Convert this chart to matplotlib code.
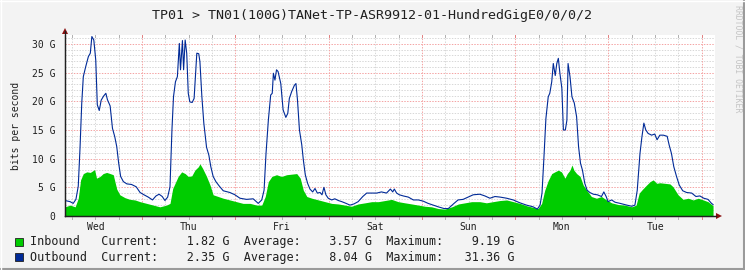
import matplotlib
matplotlib.use("Agg")
import matplotlib.pyplot as plt
from matplotlib.lines import Line2D
from matplotlib.patches import Rectangle, Polygon

# ---- data (hours since Wed 00:00, Gbit/s) ----
out_t = [4.2, 5.5, 6.3, 7.0, 7.6, 8.05, 8.5, 8.9, 9.5, 10.2, 10.7, 11.1, 11.6, 12.1, 12.5, 13.0,
         13.5, 14.1, 14.7, 15.1, 15.8, 16.4, 17.0, 17.5, 18.0, 18.5, 19.2, 20.1, 21.3, 22.5, 23.5,
         24.5, 25.6, 26.7, 27.6, 28.4, 29.2, 29.9, 30.6, 31.2, 31.7, 32.1, 32.6, 33.1, 33.6, 33.9,
         34.4, 34.7, 35.1, 35.5, 35.9, 36.3, 36.9, 37.4, 37.8, 38.1, 38.6, 38.9, 39.4, 39.9, 40.6,
         41.2, 41.7, 42.3, 43.0, 43.9, 44.9, 46.6, 47.9, 49.2, 50.9, 52.6, 53.9, 54.8, 55.4, 55.9,
         56.5, 57.1, 57.5, 57.8, 58.2, 58.6, 59.0, 59.7, 60.3, 61.0, 61.5, 61.9, 62.5, 63.2, 63.6,
         64.0, 64.5, 65.1, 65.5, 66.0, 66.6, 67.2, 67.9, 68.5, 69.1, 69.8, 70.3, 70.8, 71.3, 71.9,
         72.8, 73.6, 74.5, 75.4, 76.5, 77.5, 78.5, 79.6, 80.8, 81.8, 83.1, 84.4, 85.6, 86.9, 87.9,
         88.5, 88.9, 89.5, 90.2, 91.2, 92.5, 93.8, 95.1, 96.3, 97.6, 98.9, 100.2, 101.7, 102.8,
         104.1, 105.3, 106.6, 107.9, 109.2, 110.9, 112.2, 113.5, 114.8, 116.1, 117.8, 119.5, 121.2,
         122.9, 124.6, 125.7, 126.4, 126.9, 127.4, 127.9, 128.5, 128.9, 129.4, 129.8, 130.3, 130.7,
         131.1, 131.5, 132.0, 132.4, 132.9, 133.3, 133.6, 134.1, 134.6, 135.2, 135.8, 136.3, 136.8,
         137.3, 137.9, 138.5, 139.2, 140.1, 141.1, 142.2, 142.8, 143.4, 143.9, 144.8, 145.7, 147.0,
         148.7, 150.0, 150.8, 151.4, 152.1, 152.6, 153.1, 153.6, 154.2, 155.1, 155.9, 156.5, 157.2,
         158.1, 159.1, 159.6, 160.2, 160.8, 161.5, 162.2, 163.1, 164.1, 165.4, 166.5, 167.5, 168.5,
         169.6, 170.5, 170.9]
out_v = [2.7, 2.5, 2.2, 2.9, 5.2, 11.8, 19.7, 24.3, 26.0, 27.8, 28.4, 31.3, 30.7, 27.2, 19.4, 18.4,
         20.2, 20.9, 21.4, 20.3, 19.2, 15.3, 13.8, 12.1, 9.2, 6.9, 6.0, 5.6, 5.5, 5.1, 4.1,
         3.7, 3.3, 2.8, 3.5, 3.8, 3.4, 2.7, 3.3, 5.1, 15.0, 20.8, 23.4, 24.3, 30.1, 25.5,
         30.6, 25.5, 30.7, 28.4, 21.4, 19.9, 19.8, 20.5, 24.9, 28.4, 28.3, 26.9, 20.8, 16.2, 12.0,
         10.6, 8.6, 6.9, 6.0, 5.2, 4.4, 4.1, 3.7, 3.1, 2.9, 3.0, 2.2, 2.8, 4.5, 10.9,
         16.7, 21.1, 21.4, 24.9, 23.7, 25.5, 25.2, 23.1, 18.5, 17.2, 17.9, 20.5, 21.7, 22.8, 23.1,
         20.2, 15.0, 12.4, 9.8, 7.2, 5.7, 4.7, 4.2, 4.8, 4.0, 4.1, 3.7, 5.0, 3.7, 3.1,
         2.8, 3.0, 2.7, 2.5, 2.2, 1.9, 2.1, 2.5, 3.4, 4.0, 4.0, 4.0, 4.2, 4.0, 4.7,
         4.2, 4.7, 4.0, 3.7, 3.5, 3.3, 2.8, 2.8, 2.6, 2.2, 1.9, 1.6, 1.3, 1.3,
         2.1, 2.8, 2.9, 3.3, 3.7, 3.8, 3.5, 3.1, 3.4, 3.3, 3.1, 2.8, 2.3,
         1.9, 1.6, 1.2, 1.9, 4.0, 10.3, 17.0, 20.8, 21.4, 23.4, 26.6, 24.5, 26.6,
         27.5, 24.9, 22.3, 15.0, 15.0, 16.7, 26.6, 24.3, 20.8, 19.7, 17.3, 12.1, 9.2,
         8.0, 5.7, 4.5, 4.1, 3.8, 3.7, 3.4, 4.2, 3.4, 2.5, 2.8, 2.4, 2.2,
         1.9, 1.7, 1.9, 4.5, 10.9, 13.8, 16.2, 15.0, 14.4, 14.1, 14.3, 13.3, 14.1,
         14.1, 13.9, 12.4, 10.9, 8.6, 6.9, 5.4, 4.4, 4.1, 4.0, 3.4, 3.5, 3.1,
         2.9, 2.2, 2.0]

in_t = [4.2, 5.5, 6.8, 7.6, 8.2, 8.9, 9.8, 10.7, 11.8, 12.3, 13.2, 14.0, 14.9, 15.8, 16.6, 17.5,
        18.3, 19.6, 20.9, 22.2, 23.5, 25.2, 26.9, 28.6, 30.3, 31.2, 31.9, 32.5, 33.3, 34.2, 35.1,
        35.9, 36.8, 37.6, 38.5, 38.9, 39.6, 40.6, 41.5, 42.3, 43.6, 44.9, 46.6, 48.3, 50.0, 51.8,
        53.5, 54.8, 55.7, 56.5, 57.4, 58.6, 59.9, 61.2, 62.5, 63.8, 64.7, 65.5, 66.4, 67.7, 69.4,
        71.1, 72.8, 74.5, 76.2, 77.9, 79.6, 81.4, 83.1, 84.8, 86.5, 88.2, 89.9, 91.6, 93.4, 95.1,
        96.8, 98.5, 100.2, 101.9, 103.7, 105.4, 107.1, 108.8, 110.9, 112.6, 114.3, 116.1, 117.8,
        119.5, 121.2, 122.9, 124.6, 125.9, 126.8, 127.6, 128.5, 129.4, 130.2, 131.1, 131.9, 132.8,
        133.4, 134.1, 134.6, 135.1, 135.8, 136.7, 137.5, 138.4, 139.6, 140.9, 142.2, 143.5, 144.8,
        146.5, 148.2, 150.0, 151.1, 151.9, 152.8, 153.8, 154.7, 155.5, 156.4, 157.2, 158.5, 159.8,
        160.6, 161.9, 163.2, 164.5, 165.8, 167.1, 168.4, 169.6, 170.9]
in_v = [1.6, 1.9, 1.6, 3.1, 6.3, 7.4, 7.7, 7.6, 8.1, 6.6, 6.9, 7.4, 7.6, 7.4, 7.2, 4.7,
        3.7, 3.2, 2.9, 2.8, 2.5, 2.2, 1.9, 1.6, 1.9, 2.2, 4.8, 5.7, 6.9, 7.7, 7.4,
        6.9, 7.0, 8.0, 8.6, 9.1, 8.3, 6.9, 5.4, 3.7, 3.4, 3.1, 2.8, 2.5, 2.2, 2.2,
        1.9, 1.9, 3.4, 6.0, 6.9, 7.2, 6.9, 7.2, 7.3, 7.4, 6.6, 4.5, 3.4, 3.1, 2.8,
        2.5, 2.2, 2.1, 1.9, 1.7, 2.1, 2.3, 2.5, 2.5, 2.7, 2.9, 2.5, 2.3, 2.1, 1.9,
        1.7, 1.6, 1.3, 1.2, 1.6, 2.1, 2.3, 2.5, 2.5, 2.3, 2.5, 2.7, 2.8,
        2.5, 2.2, 1.8, 1.5, 1.3, 2.2, 4.5, 6.2, 7.4, 7.7, 8.0, 7.7, 6.6,
        7.4, 8.0, 8.9, 8.0, 7.4, 6.9, 5.4, 4.5, 3.4, 3.1, 3.4, 2.8, 2.3,
        2.0, 1.9, 1.6, 1.9, 4.0, 4.7, 5.4, 6.0, 6.3, 5.7, 5.8, 5.7, 5.6,
        5.1, 3.7, 2.9, 3.1, 2.8, 3.1, 2.8, 2.5, 1.8]

day_labels = ["Wed", "Thu", "Fri", "Sat", "Sun", "Mon", "Tue"]
y_ticks = [0, 5, 10, 15, 20, 25, 30]
y_ticklabels = ["0", "5 G", "10 G", "15 G", "20 G", "25 G", "30 G"]
title = "TP01 > TN01(100G)TANet-TP-ASR9912-01-HundredGigE0/0/0/2"
legend_rows = [
    ("Inbound", "1.82 G", "3.57 G", "9.19 G", "#00CC00"),
    ("Outbound", "2.35 G", "8.04 G", "31.36 G", "#002A97"),
]

MONO = "DejaVu Sans Mono"
W, H = 745, 270
fig = plt.figure(figsize=(W / 100, H / 100), dpi=100)
fig.patch.set_facecolor("#F3F3F3")

x0, x1, ytop, ybot = 65, 715, 35, 216
ax = fig.add_axes([x0 / W, (H - ybot) / H, (x1 - x0) / W, (ybot - ytop) / H])
ax.set_facecolor("white")
xmin, xmax = 4.19, 171.4
ymax = 31.57
ax.set_xlim(xmin, xmax)
ax.set_ylim(0, ymax)

dot = (0, (1.4, 1.4))
# horizontal grid
for g in range(1, 32):
    if g % 5 == 0:
        ax.axhline(g, color="#F4A4A4", lw=0.72, ls=dot, zorder=1)
    else:
        ax.axhline(g, color="#D8D8D8", lw=0.72, ls=dot, zorder=1)
# vertical grid
for h in range(6, 172, 6):
    if h % 24 == 0:
        ax.axvline(h, color="#F4A4A4", lw=0.72, ls=dot, zorder=1)
    else:
        ax.axvline(h, color="#D8D8D8", lw=0.72, ls=dot, zorder=1)

ax.fill_between(in_t, 0, in_v, color="#00CC00", lw=0, zorder=2)
ax.plot(out_t, out_v, color="#002A97", lw=0.8, zorder=3)

for s in ["top", "right"]:
    ax.spines[s].set_visible(False)
for s in ["left", "bottom"]:
    ax.spines[s].set_color("#202020")
    ax.spines[s].set_linewidth(0.9)

ax.set_yticks(y_ticks)
ax.set_yticklabels(y_ticklabels, fontfamily=MONO, fontsize=7, color="#202020")
ax.set_xticks([12 + 24 * i for i in range(7)])
ax.set_xticklabels(day_labels, fontfamily=MONO, fontsize=7, color="#202020")
ax.tick_params(axis="both", length=0)
ax.tick_params(axis="y", pad=7)
ax.tick_params(axis="x", pad=4)
ax.set_ylabel("bits per second", fontfamily=MONO, fontsize=7, color="#202020", labelpad=8)

def px(x, y):
    return (x / W, 1 - y / H)

# small ticks at grid line ends
for h in range(6, 172, 6):
    xp = x0 + (h - xmin) / (xmax - xmin) * (x1 - x0)
    col = "#E08080" if h % 24 == 0 else "#B0B0B0"
    fig.add_artist(Line2D([xp / W, xp / W], [1 - 216 / H, 1 - 219 / H], color=col, lw=0.7))
    fig.add_artist(Line2D([xp / W, xp / W], [1 - ytop / H, 1 - (ytop + 2) / H], color=col, lw=0.7))

# extended axes and arrows
fig.add_artist(Line2D([x0 / W, x0 / W], [1 - ybot / H, 1 - 31 / H], color="#202020", lw=0.9))
fig.add_artist(Line2D([x0 / W, 716 / W], [1 - ybot / H, 1 - ybot / H], color="#202020", lw=0.9))
fig.add_artist(Polygon([px(62, 34), px(68, 34), px(65, 28)], closed=True, color="#8B1010", lw=0))
fig.add_artist(Polygon([px(716, 213), px(716, 219), px(722, 216)], closed=True, color="#8B1010", lw=0))

# title
fig.text(372 / W, 1 - 15 / H, title, fontfamily=MONO, fontsize=9.6, color="#202020",
         ha="center", va="center")
# watermark
fig.text(738 / W, 1 - 5 / H, "RRDTOOL / TOBI OETIKER", fontfamily=MONO, fontsize=5.9,
         color="#C4C4C4", rotation=270, ha="center", va="top")

# legend
for i, (name, cur, avg, mx, col) in enumerate(legend_rows):
    yc = 242 + i * 15
    fig.add_artist(Rectangle(px(15, yc + 4), 8 / W, 8 / H, facecolor=col,
                             edgecolor="#202020", lw=0.6))
    s = f"{name:<10}Current:{cur:>10}  Average:{avg:>10}  Maximum:{mx:>10}"
    fig.text(30 / W, 1 - yc / H, s, fontfamily=MONO, fontsize=8.5, color="#202020",
             ha="left", va="center")

# frame
fig.add_artist(Line2D([0, 1], [1 - 268.5 / H] * 2, color="#9A9A9A", lw=1.5))
fig.add_artist(Line2D([743.5 / W] * 2, [0, 1], color="#9A9A9A", lw=1.5))
fig.add_artist(Line2D([0, 1], [1 - 0.5 / H] * 2, color="#FFFFFF", lw=1.0))
fig.add_artist(Line2D([0.5 / W] * 2, [0, 1], color="#FFFFFF", lw=1.0))

fig.savefig("out.png", dpi=100, facecolor=fig.get_facecolor())
